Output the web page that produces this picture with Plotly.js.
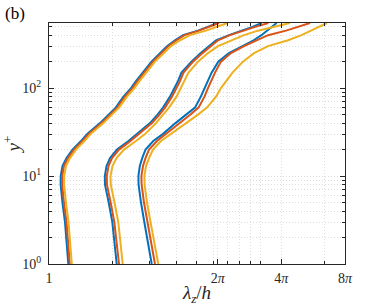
<!DOCTYPE html>
<html><head><meta charset="utf-8">
<script src="https://cdn.plot.ly/plotly-3.0.1.min.js"></script>
<style>html,body{margin:0;padding:0;background:#fff}#chart{width:382px;height:306px}</style>
</head><body><div id="chart"></div>
<script>
// wall-normal position y+
const yPlus = [1,2,3,5,7,8,10,13,16,20,25,30,40,50,60,80,100,120,150,200,250,300,350,400,450,500,550];

// spanwise wavelength lambda_z/h, three families (low, mid, high), three cases (blue, orange, yellow)
const lowBlue   = [1.234,1.207,1.190,1.158,1.140,1.135,1.136,1.158,1.210,1.292,1.417,1.512,1.743,1.912,2.068,2.251,2.443,2.579,2.784,3.054,3.350,3.615,3.945,4.305,5.068,5.712,6.281];
const lowOrange = [1.254,1.227,1.210,1.177,1.159,1.154,1.155,1.177,1.230,1.313,1.440,1.537,1.772,1.944,2.102,2.288,2.483,2.622,2.830,3.104,3.405,3.675,4.010,4.376,5.124,5.775,6.370];
const lowYellow = [1.282,1.254,1.237,1.203,1.184,1.179,1.180,1.203,1.257,1.342,1.472,1.572,1.810,1.986,2.144,2.339,2.537,2.680,2.893,3.172,3.499,3.776,4.166,4.645,5.529,6.233,6.988];

const midBlue   = [2.091,2.030,1.993,1.916,1.860,1.840,1.837,1.871,1.944,2.097,2.377,2.608,3.004,3.261,3.462,3.735,3.923,4.075,4.234,4.717,5.220,5.712,6.166,7.103,8.185,9.226,10.14];
const midOrange = [2.144,2.074,2.037,1.957,1.901,1.880,1.877,1.912,1.986,2.144,2.430,2.666,3.070,3.332,3.538,3.817,4.009,4.166,4.328,4.800,5.323,5.808,6.301,7.180,8.274,9.532,10.90];
const midYellow = [2.232,2.168,2.127,2.041,1.982,1.960,1.954,1.997,2.086,2.264,2.579,2.845,3.208,3.480,3.695,4.009,4.211,4.375,4.570,5.068,5.650,6.301,7.338,8.365,9.741,11.85,13.80];

const highBlue   = [3.061,2.899,2.824,2.724,2.674,2.653,2.648,2.689,2.760,2.861,3.114,3.453,3.966,4.457,4.904,5.226,5.445,5.632,5.877,6.321,7.096,8.229,9.286,10.11,10.76,11.36,11.94];
const highOrange = [3.172,3.004,2.924,2.814,2.763,2.742,2.736,2.784,2.861,2.972,3.243,3.576,4.143,4.670,5.096,5.439,5.650,5.838,6.099,6.510,7.258,8.365,9.532,10.87,13.22,15.39,17.17];
const highYellow = [3.289,3.105,3.021,2.908,2.855,2.833,2.827,2.877,2.972,3.105,3.387,3.776,4.447,5.068,5.589,6.166,6.510,6.875,7.379,8.274,9.327,10.87,13.51,15.65,17.45,19.14,20.65];

const xTickVals = [1, 2*Math.PI, 4*Math.PI, 8*Math.PI];
const xTickText = ['1','2<i>π</i>','4<i>π</i>','8<i>π</i>'];
const xMinorVals = [2,3,4,5,6,7,8,9,10,20];
const yTickVals = [1,10,100];
const yTickText = ['10<sup>0</sup>','10<sup>1</sup>','10<sup>2</sup>'];
const yMinorVals = [2,3,4,5,6,7,8,9,20,30,40,50,60,70,80,90,200,300,400,500];

const cBlue = '#0072BD', cOrange = '#D95319', cYellow = '#EDB120';
const series = [
  [lowBlue,cBlue],[midBlue,cBlue],[highBlue,cBlue],
  [lowOrange,cOrange],[midOrange,cOrange],[highOrange,cOrange],
  [lowYellow,cYellow],[midYellow,cYellow],[highYellow,cYellow]
];
const traces = series.map(([xs,c]) => ({
  x: xs, y: yPlus, type:'scatter', mode:'lines',
  line:{color:c, width:2}, hoverinfo:'skip', showlegend:false
}));

const serif = 'Liberation Serif, serif';
const font = {family:serif, size:14, color:'#262626'};
const gridCol = '#dedede';
const axisCommon = {
  type:'log', showline:true, mirror:'ticks', linecolor:'#262626', linewidth:1,
  ticks:'inside', ticklen:5, tickwidth:1, tickcolor:'#262626',
  showgrid:true, gridcolor:gridCol, griddash:'1px,2px', gridwidth:1,
  zeroline:false, tickmode:'array', tickfont:font
};
const minorCommon = {tickmode:'array', ticks:'inside', ticklen:3, tickcolor:'#262626',
  showgrid:true, gridcolor:gridCol, griddash:'1px,2px', gridwidth:1};
const layout = {
  width:382, height:306,
  margin:{l:49, r:37, t:23, b:42},
  paper_bgcolor:'#fff', plot_bgcolor:'#fff',
  font:font,
  xaxis: Object.assign({}, axisCommon, {
    range:[0, Math.log10(8*Math.PI)],
    tickvals:xTickVals, ticktext:xTickText, ticklabelstandoff:1,
    minor:Object.assign({tickvals:xMinorVals}, minorCommon),
    title:{text:'<i>λ</i><sub><i>z</i></sub>/<i>h</i>', font:{family:serif, size:19, color:'#262626'}, standoff:2}
  }),
  yaxis: Object.assign({}, axisCommon, {
    range:[0, Math.log10(550)],
    tickvals:yTickVals, ticktext:yTickText, ticklabelstandoff:4,
    minor:Object.assign({tickvals:yMinorVals}, minorCommon),
    title:{text:'<i>y</i><sup>+</sup>', font:{family:serif, size:19, color:'#262626'}, standoff:2}
  }),
  annotations:[{
    text:'(b)', xref:'paper', yref:'paper', x:-0.155, y:1.04, xanchor:'left', yanchor:'middle',
    showarrow:false, font:{family:serif, size:17, color:'#000'}
  }]
};
Plotly.newPlot('chart', traces, layout, {staticPlot:true, displayModeBar:false});
</script>
</body></html>
